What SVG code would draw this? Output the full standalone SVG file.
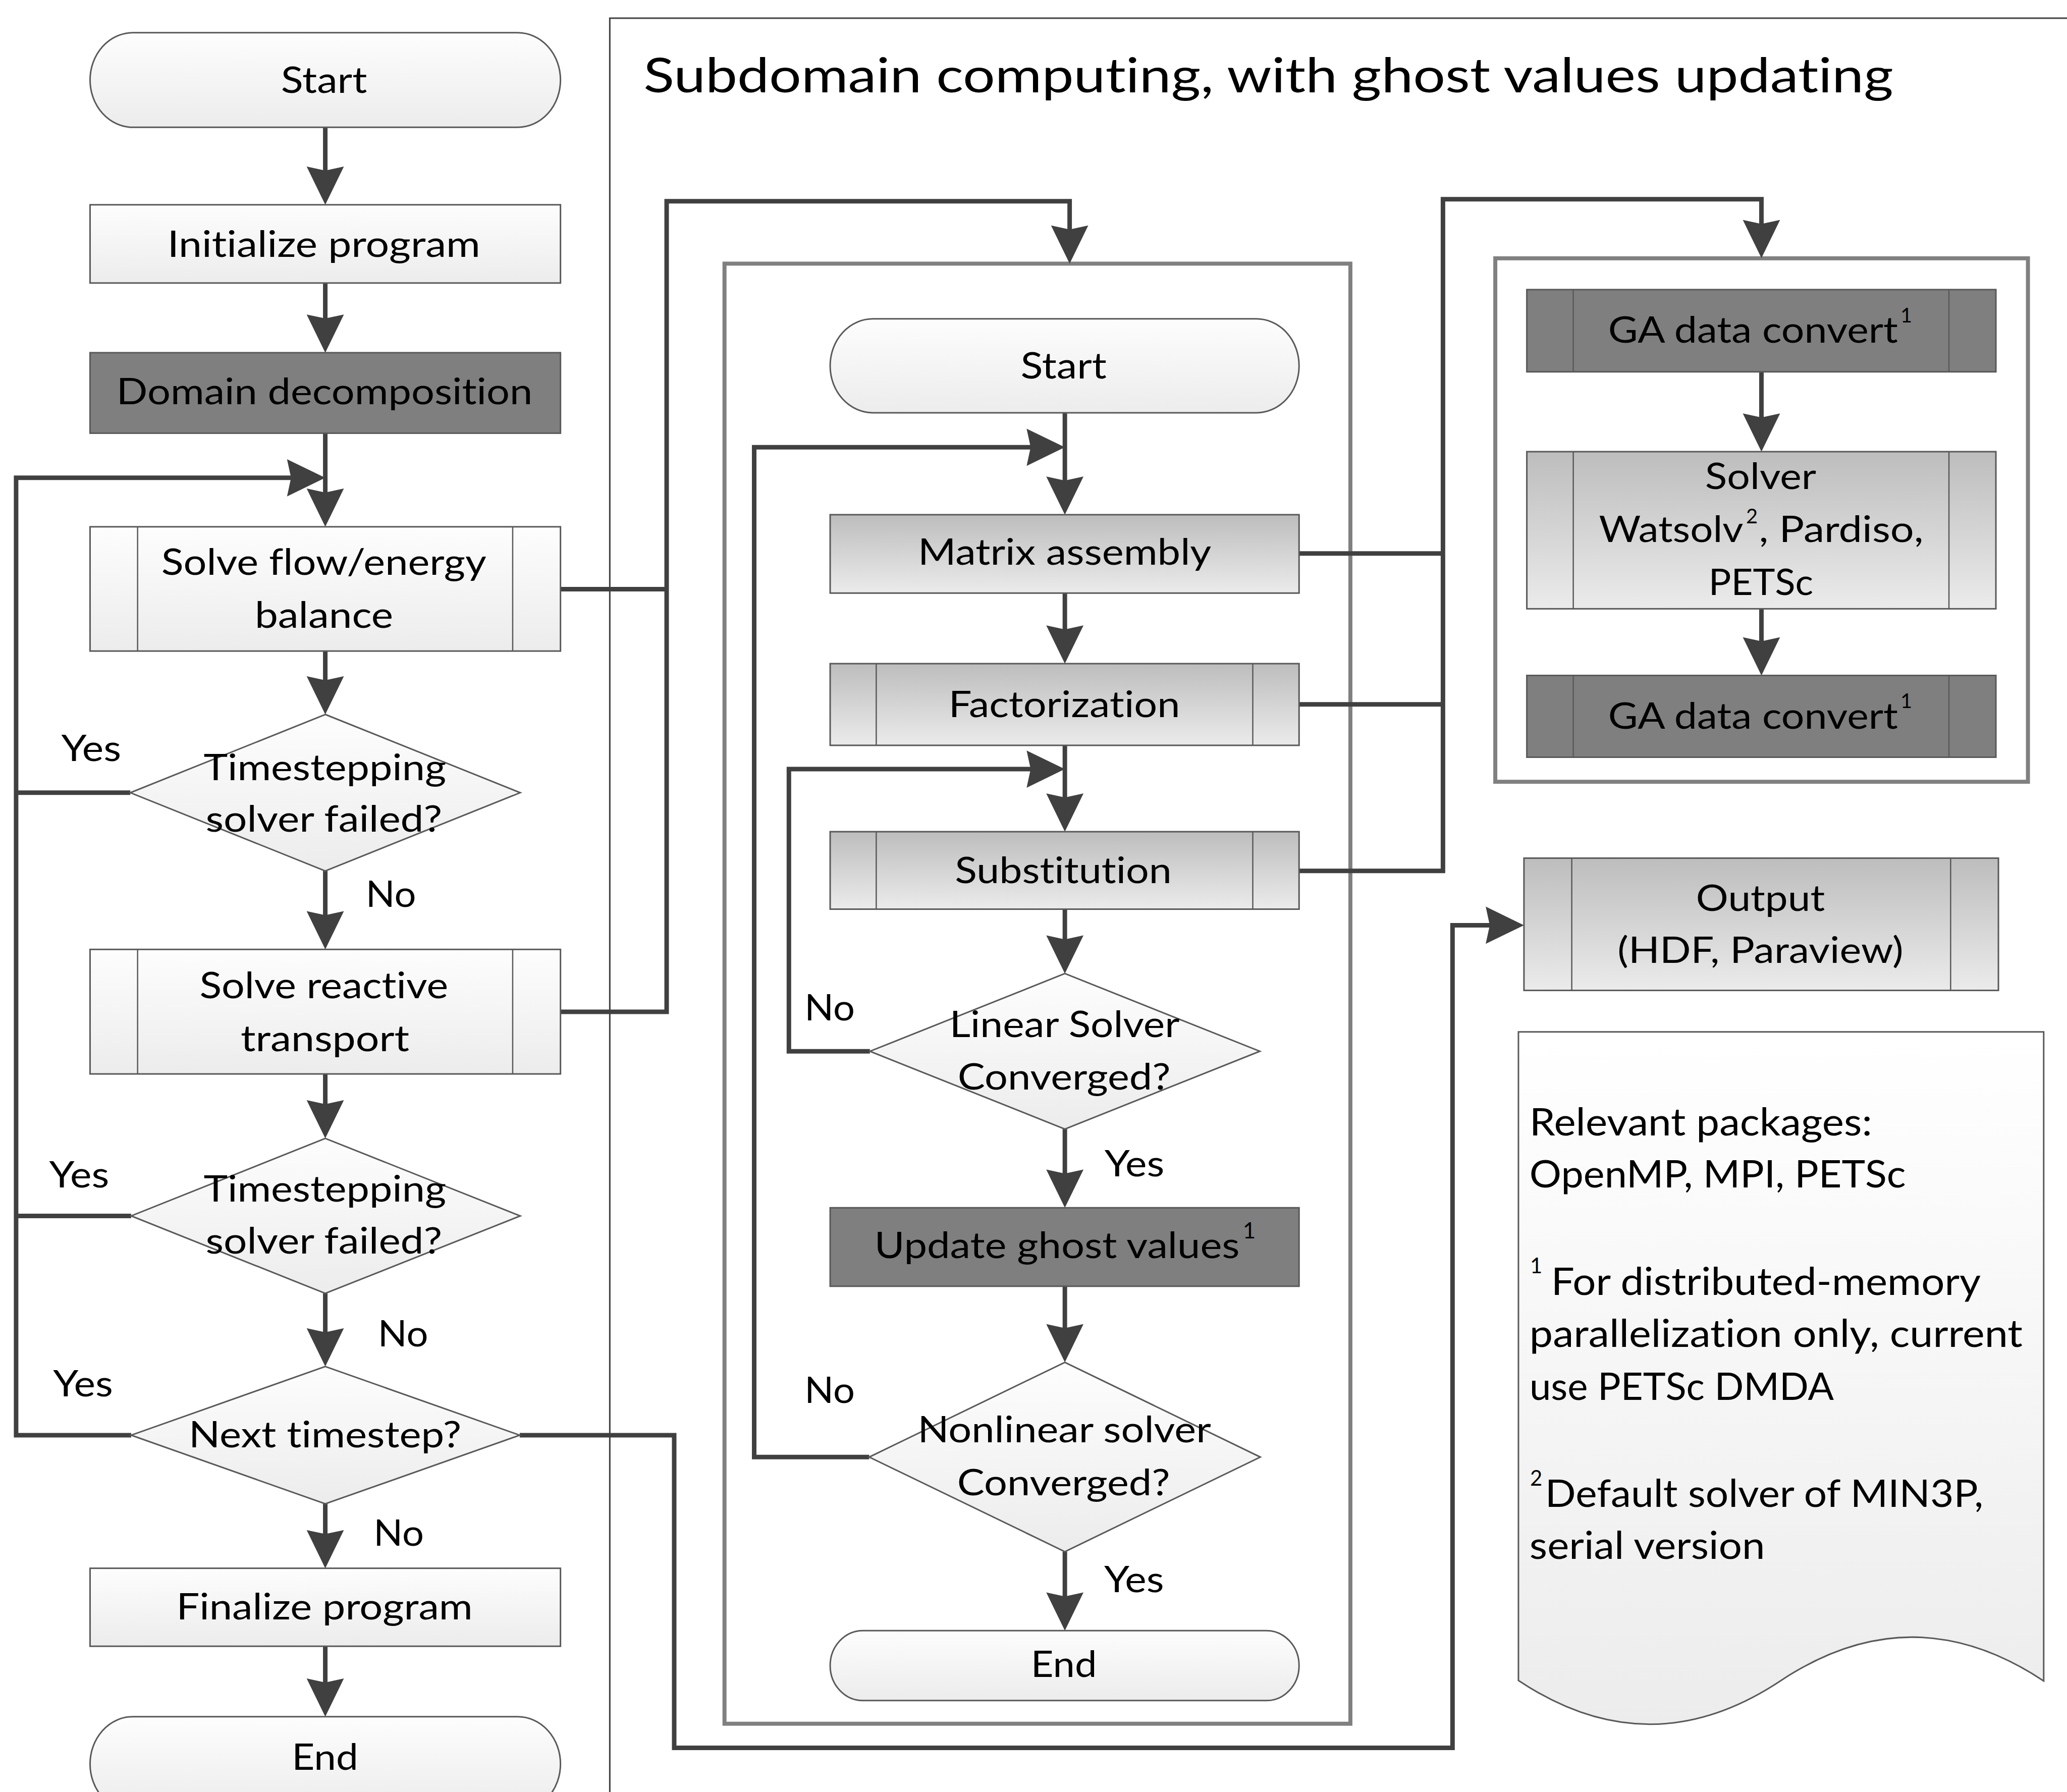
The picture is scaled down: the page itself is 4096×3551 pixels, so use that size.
<svg xmlns="http://www.w3.org/2000/svg" width="4096" height="3551" viewBox="0 0 4096 3551">
<style>
text{font-family:Lato,"Liberation Sans",sans-serif;font-size:72.5px;fill:#000;text-anchor:middle;font-variant-ligatures:none;font-feature-settings:"liga" 0,"clig" 0;}
.st{text-anchor:start;}
.ttl{font-size:96px;text-anchor:start;}
.nt{font-size:75px;text-anchor:start;}
.sup{font-size:44px;}
.bx{stroke:#595959;stroke-width:3;}
.sb{stroke:#595959;stroke-width:2.5;fill:none;}
.cn{fill:none;stroke:#404040;stroke-width:9;stroke-linejoin:miter;stroke-linecap:butt;}
.ar{marker-end:url(#ah);}
.frm{fill:none;stroke:#808080;stroke-width:8;}
</style>
<defs>
<linearGradient id="gL" x1="0" y1="0" x2="0" y2="1"><stop offset="0" stop-color="#fdfdfd"/><stop offset="1" stop-color="#ececec"/></linearGradient>
<linearGradient id="gM" x1="0" y1="0" x2="0" y2="1"><stop offset="0" stop-color="#bdbdbd"/><stop offset="1" stop-color="#ebebeb"/></linearGradient>
<linearGradient id="gD" x1="0" y1="0" x2="0" y2="1"><stop offset="0" stop-color="#ffffff"/><stop offset="1" stop-color="#ececec"/></linearGradient>
<marker id="ah" markerUnits="userSpaceOnUse" viewBox="-40 -40 90 80" markerWidth="90" markerHeight="80" refX="0" refY="0" orient="auto" overflow="visible">
<path d="M40,0 L-36,-37 L-28,0 L-36,37 Z" fill="#404040"/>
</marker>
</defs>
<rect x="0" y="0" width="4096" height="3551" fill="#ffffff"/>
<g transform="scale(0.997)">
<g id="subdomain-frame">
<path d="M1212,3600 V36 H4200" fill="none" stroke="#404040" stroke-width="3"/>
<text class="ttl" x="1279" y="183.7" textLength="2484" lengthAdjust="spacingAndGlyphs">Subdomain computing, with ghost values updating</text>
</g>
<g id="inner-frame"><rect class="frm" x="1440" y="524" width="1244" height="2902"/></g>
<g id="solver-frame"><rect class="frm" x="2972" y="513.4" width="1058.7" height="1040.4"/></g>

<g id="connectors">
<path class="cn ar" d="M646.5,252.6 V367"/>
<path class="cn ar" d="M646.5,562.5 V661"/>
<path class="cn ar" d="M646.5,861 V1007"/>
<path class="cn ar" d="M646.5,1294 V1380"/>
<path class="cn ar" d="M646.5,1731 V1847"/>
<path class="cn ar" d="M646.5,2134.5 V2222.6"/>
<path class="cn ar" d="M646.5,2570.7 V2676"/>
<path class="cn ar" d="M646.5,2989 V3077"/>
<path class="cn ar" d="M646.5,3272 V3372"/>
<path class="cn" d="M259,1575.5 H32"/>
<path class="cn" d="M260.7,2416.7 H32"/>
<path class="cn ar" d="M260.7,2852.5 H32 V949.7 H606.5"/>
<path class="cn" d="M1113.7,1171 H1325"/>
<path class="cn ar" d="M1113.7,2011 H1325 V400 H2126 V484"/>
<path class="cn ar" d="M1033,2852.5 H1340 V3474 H2887 V1839 H2989"/>
<path class="cn ar" d="M2116.5,820.4 V983"/>
<path class="cn ar" d="M1727.6,2896 H1499 V889 H2076.5"/>
<path class="cn ar" d="M2116.5,1178.8 V1279"/>
<path class="cn ar" d="M2116.5,1481.4 V1613"/>
<path class="cn ar" d="M1729,2089.5 H1568 V1528.6 H2076.5"/>
<path class="cn ar" d="M2116.5,1807 V1895"/>
<path class="cn ar" d="M2116.5,2244 V2360.5"/>
<path class="cn ar" d="M2116.5,2556.5 V2667.7"/>
<path class="cn ar" d="M2116.5,3084 V3201"/>
<path class="cn" d="M2582,1100 H2868"/>
<path class="cn" d="M2582,1400 H2868"/>
<path class="cn ar" d="M2582,1731 H2868 V396 H3501 V473"/>
<path class="cn ar" d="M3501,739 V857.7"/>
<path class="cn ar" d="M3501,1210 V1302.5"/>
</g>

<g id="start-main"><rect class="bx" x="179" y="65" width="935" height="188" rx="85" ry="94" fill="url(#gL)"/><text x="644" y="184.8" textLength="171" lengthAdjust="spacingAndGlyphs">Start</text></g>
<g id="init"><rect class="bx" x="179" y="407" width="935" height="155.5" fill="url(#gL)"/><text x="643.7" y="510.9" textLength="622" lengthAdjust="spacingAndGlyphs">Initialize program</text></g>
<g id="domain"><rect class="bx" x="179" y="701" width="935" height="160" fill="#7f7f7f"/><text x="645" y="803.6" textLength="827" lengthAdjust="spacingAndGlyphs">Domain decomposition</text></g>
<g id="solve-flow"><rect class="bx" x="179" y="1047" width="935" height="247" fill="url(#gL)"/><path class="sb" d="M273.5,1047 V1294 M1019,1047 V1294"/><text x="643.7" y="1142.4" textLength="646" lengthAdjust="spacingAndGlyphs">Solve flow/energy</text><text x="644" y="1247.6" textLength="275" lengthAdjust="spacingAndGlyphs">balance</text></g>
<g id="dec-ts1"><polygon class="bx" points="646.5,1420 1034,1575.5 646.5,1731 259,1575.5" fill="url(#gL)" stroke-width="2"/><text x="645.7" y="1550.6" textLength="482" lengthAdjust="spacingAndGlyphs">Timestepping</text><text x="643.8" y="1652.6" textLength="470" lengthAdjust="spacingAndGlyphs">solver failed?</text></g>
<g id="solve-rt"><rect class="bx" x="179" y="1887" width="935" height="247.5" fill="url(#gL)"/><path class="sb" d="M273.5,1887 V2134.5 M1019,1887 V2134.5"/><text x="643.7" y="1984" textLength="494" lengthAdjust="spacingAndGlyphs">Solve reactive</text><text x="646" y="2089" textLength="335" lengthAdjust="spacingAndGlyphs">transport</text></g>
<g id="dec-ts2"><polygon class="bx" points="646.5,2262.6 1034,2416.7 646.5,2570.7 260.7,2416.7" fill="url(#gL)" stroke-width="2"/><text x="645.7" y="2387.7" textLength="482" lengthAdjust="spacingAndGlyphs">Timestepping</text><text x="643.8" y="2491" textLength="470" lengthAdjust="spacingAndGlyphs">solver failed?</text></g>
<g id="dec-next"><polygon class="bx" points="646.5,2716 1033,2852.5 646.5,2989 260.7,2852.5" fill="url(#gL)" stroke-width="2"/><text x="646" y="2876.8" textLength="542" lengthAdjust="spacingAndGlyphs">Next timestep?</text></g>
<g id="finalize"><rect class="bx" x="179" y="3117" width="935" height="155" fill="url(#gL)"/><text x="645" y="3219" textLength="589" lengthAdjust="spacingAndGlyphs">Finalize program</text></g>
<g id="end-main"><rect class="bx" x="179" y="3412" width="935" height="188" rx="85" ry="94" fill="url(#gL)"/><text x="646" y="3518" textLength="132" lengthAdjust="spacingAndGlyphs">End</text></g>

<g id="labels-left">
<text x="181.3" y="1512.3" textLength="119" lengthAdjust="spacingAndGlyphs">Yes</text>
<text x="777" y="1802.5" textLength="100" lengthAdjust="spacingAndGlyphs">No</text>
<text x="157.4" y="2360" textLength="119" lengthAdjust="spacingAndGlyphs">Yes</text>
<text x="801" y="2676" textLength="100" lengthAdjust="spacingAndGlyphs">No</text>
<text x="165" y="2775" textLength="119" lengthAdjust="spacingAndGlyphs">Yes</text>
<text x="792.5" y="3072" textLength="100" lengthAdjust="spacingAndGlyphs">No</text>
</g>

<g id="start-inner"><rect class="bx" x="1650" y="633.7" width="932" height="186.7" rx="85" ry="93" fill="url(#gL)"/><text x="2114" y="752.3" textLength="171" lengthAdjust="spacingAndGlyphs">Start</text></g>
<g id="matrix"><rect class="bx" x="1650" y="1023" width="932" height="155.8" fill="url(#gM)"/><text x="2116" y="1122.7" textLength="583" lengthAdjust="spacingAndGlyphs">Matrix assembly</text></g>
<g id="factor"><rect class="bx" x="1650" y="1319" width="932" height="162.4" fill="url(#gM)"/><path class="sb" d="M1741.6,1319 V1481.4 M2490,1319 V1481.4"/><text x="2115.5" y="1425" textLength="460" lengthAdjust="spacingAndGlyphs">Factorization</text></g>
<g id="subst"><rect class="bx" x="1650" y="1653" width="932" height="154" fill="url(#gM)"/><path class="sb" d="M1741.6,1653 V1807 M2490,1653 V1807"/><text x="2113.4" y="1755" textLength="431" lengthAdjust="spacingAndGlyphs">Substitution</text></g>
<g id="dec-linear"><polygon class="bx" points="2116.5,1935 2504,2089.5 2116.5,2244 1729,2089.5" fill="url(#gL)" stroke-width="2"/><text x="2116" y="2061.6" textLength="457" lengthAdjust="spacingAndGlyphs">Linear Solver</text><text x="2115" y="2165" textLength="423" lengthAdjust="spacingAndGlyphs">Converged?</text></g>
<g id="update-ghost"><rect class="bx" x="1650" y="2400.5" width="932" height="156" fill="#7f7f7f"/><text x="2101" y="2501" textLength="726" lengthAdjust="spacingAndGlyphs">Update ghost values</text><text class="sup" x="2483" y="2461">1</text></g>
<g id="dec-nonlinear"><polygon class="bx" points="2116.5,2707.7 2505,2896 2116.5,3084 1727.6,2896" fill="url(#gL)" stroke-width="2"/><text x="2115.5" y="2867" textLength="583" lengthAdjust="spacingAndGlyphs">Nonlinear solver</text><text x="2114" y="2971.5" textLength="423" lengthAdjust="spacingAndGlyphs">Converged?</text></g>
<g id="end-inner"><rect class="bx" x="1650" y="3241" width="932" height="139" rx="65" ry="69.5" fill="url(#gL)"/><text x="2114.5" y="3333" textLength="131" lengthAdjust="spacingAndGlyphs">End</text></g>

<g id="labels-inner">
<text x="1649" y="2028.5" textLength="100" lengthAdjust="spacingAndGlyphs">No</text>
<text x="1649" y="2788" textLength="100" lengthAdjust="spacingAndGlyphs">No</text>
<text x="2254.8" y="2337.7" textLength="119" lengthAdjust="spacingAndGlyphs">Yes</text>
<text x="2254" y="3164.5" textLength="119" lengthAdjust="spacingAndGlyphs">Yes</text>
</g>

<g id="ga1"><rect class="bx" x="3034.7" y="575.6" width="932.3" height="163.4" fill="#7f7f7f"/><path class="sb" d="M3127,575.6 V739 M3873.7,575.6 V739"/><text x="3484.3" y="680.8" textLength="576" lengthAdjust="spacingAndGlyphs">GA data convert</text><text class="sup" x="3789" y="641" style="font-size:40px">1</text></g>
<g id="solver"><rect class="bx" x="3034.7" y="897.7" width="932.3" height="312.3" fill="url(#gM)"/><path class="sb" d="M3127,897.7 V1210 M3873.7,897.7 V1210"/><text x="3499.5" y="971.8" textLength="221" lengthAdjust="spacingAndGlyphs">Solver</text><text class="st" x="3178" y="1077" textLength="287" lengthAdjust="spacingAndGlyphs">Watsolv</text><text class="sup" x="3482" y="1040" style="font-size:40px">2</text><text class="st" x="3496" y="1077" textLength="327" lengthAdjust="spacingAndGlyphs">, Pardiso,</text><text x="3500" y="1183" textLength="208" lengthAdjust="spacingAndGlyphs">PETSc</text></g>
<g id="ga2"><rect class="bx" x="3034.7" y="1342.5" width="932.3" height="162.5" fill="#7f7f7f"/><path class="sb" d="M3127,1342.5 V1505 M3873.7,1342.5 V1505"/><text x="3484.3" y="1448.5" textLength="576" lengthAdjust="spacingAndGlyphs">GA data convert</text><text class="sup" x="3789" y="1407" style="font-size:40px">1</text></g>

<g id="output"><rect class="bx" x="3029" y="1705.6" width="943" height="262.9" fill="url(#gM)"/><path class="sb" d="M3124,1705.6 V1968.5 M3877,1705.6 V1968.5"/><text x="3499" y="1810" textLength="256" lengthAdjust="spacingAndGlyphs">Output</text><text x="3499" y="1913.4" textLength="568" lengthAdjust="spacingAndGlyphs">(HDF, Paraview)</text></g>

<g id="notes"><path class="bx" d="M3018,2051 H4062 V3341 C3888,3225 3714,3225 3540,3340 C3366,3456 3192,3456 3018,3340 Z" fill="url(#gD)" stroke-width="2.5"/>
<text class="nt" x="3040" y="2256.6" textLength="681" lengthAdjust="spacingAndGlyphs">Relevant packages:</text>
<text class="nt" x="3040" y="2360" textLength="748" lengthAdjust="spacingAndGlyphs">OpenMP, MPI, PETSc</text>
<text class="st" x="3041" y="2531" style="font-size:42px">1</text>
<text class="nt" x="3083" y="2573.5" textLength="854" lengthAdjust="spacingAndGlyphs">For distributed-memory</text>
<text class="nt" x="3040" y="2676.8" textLength="980" lengthAdjust="spacingAndGlyphs">parallelization only, current</text>
<text class="nt" x="3040" y="2782.4" textLength="605" lengthAdjust="spacingAndGlyphs">use PETSc DMDA</text>
<text class="st" x="3041" y="2953" style="font-size:42px">2</text>
<text class="nt" x="3071" y="2994.8" textLength="871" lengthAdjust="spacingAndGlyphs">Default solver of MIN3P,</text>
<text class="nt" x="3040" y="3098" textLength="468" lengthAdjust="spacingAndGlyphs">serial version</text>
</g>
</g>
</svg>
